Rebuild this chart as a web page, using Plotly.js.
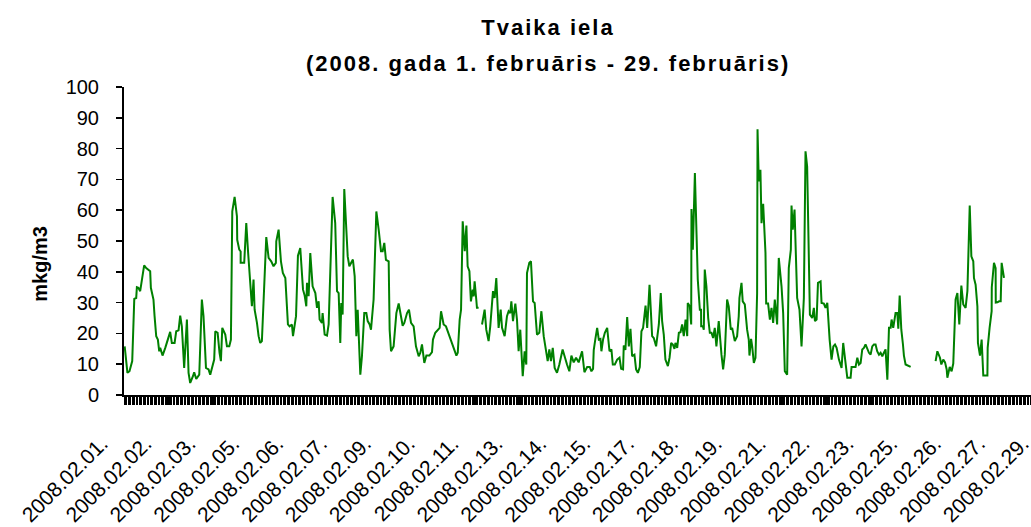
<!DOCTYPE html>
<html>
<head>
<meta charset="utf-8">
<script src="https://cdn.plot.ly/plotly-3.0.1.min.js"></script>
<style>
html,body{margin:0;padding:0;overflow:hidden;background:#fff;}
#chart{width:1096px;height:527px;}
text.gtitle{letter-spacing:2px;}
g.annotation.subtitle-ann text{letter-spacing:2px;}
</style>
</head>
<body>
<div id="chart"></div>
<script>
// hour index from 2008-02-01 00:00 (vertices); null = missing data
const hours = [
 0,2,3.5,5.5,7,8.4,8.9,10,11.3,12.5,14.2,15.7,18.6,19.1,21,21.8,23,24.2,25.2,25.9,
 27.6,29.6,31.3,33.2,34.4,36.4,37.6,39.3,40.5,41.7,43.4,45.4,46.6,47.8,49.8,50.7,52.2,54.4,56.3,57.5,
 59.3,61.2,62.4,63.9,65.3,66.1,67.8,69.2,70.2,71.2,73.4,74.6,76.3,77.5,78.5,80.2,
 81.9,82.1,83.6,84.6,84.6,87.2,88.7,89.9,91.6,92.8,94,94.8,96.5,97.7,98.9,100.1,103.3,105,106.9,108.6,
 110.3,110.6,112.3,114,115.4,117.2,119.1,120.3,122,122.8,125,126.4,128.1,130.1,131.3,132.5,133,134.2,135.4,137.1,
 139.1,140.3,141.5,142.2,143.9,144.4,145.9,147.6,148.8,151.7,153.6,154.9,156.1,157.3,158,159,160.2,161.4,162.7,163.9,
 165.3,166.5,167.8,169,170,170.7,171.9,173.1,174.8,176.3,177.3,178.7,179.7,181.6,183.6,185.3,187,188.2,189.4,190.6,
 192.6,193.3,194.3,196.2,198.2,199.9,201.1,202.8,204,206,207.4,208.9,210.8,212.5,214.5,215.7,216.9,218.6,220.1,222.3,
 224.2,224.9,226.6,228.3,229.8,230.8,232.7,234.4,236.4,238.8,240,242,243,244.4,245.4,246.6,248.1,249.3,250.2,251.5,
 252.6,253.9,254.6,255.3,256.5,257,258.2,259.5,260.7,262.6,263.8,265.5,266.7,268.7,269.9,271.1,272.8,274.3,275.3,277.2,
 278.9,280.1,281.3,282.1,283.3,285,286.2,287.4,288.6,290.4,291.8,293,293.5,295.2,296.4,297.2,297.9,299.1,300.8,302.5,
 304,305.7,306.4,307.4,308.6,309.8,311,312.3,313.7,315.4,317.1,319.5,321,322.7,324.4,325.9,327.6,329.3,331.2,332.4,
 333.7,335.4,337.4,339.3,340.5,341.7,342.2,343.4,344.7,345.9,347.1,347.8,349,350.3,352,353.7,355.1,356.1,357.6,359.3,
 361,362.2,363.6,364.1,365.3,366.6,367.8,369,370.2,371.9,373.1,374.4,375.8,377,378.2,380,381.2,382.9,383.6,384.8,
 386,387.7,389.7,391.1,392.1,393.3,394.5,396.3,397.5,398.7,399.9,401.1,401.8,403.1,404.3,405.5,406.7,407.9,409.2,410.4,
 410.8,412.3,413.3,413.5,414.5,416,417.2,418.1,419.6,
 420.5,420.6,421.8,422.5,423.2,424.4,425.7,426.9,428.1,429.3,430.5,431.7,433.4,435.4,436.6,437.8,439.5,440.7,442.2,443.2,
 445.1,446.8,448,448.5,450,450.9,452.4,454.1,455.3,455.8,457,457.8,459,460.2,461.4,461.7,462.6,463.8,464.6,465.8,
 467.5,468,469.4,470.7,471.9,473.1,474.3,476,477.2,479.2,480.4,481.6,483.3,484.5,486,486.5,487.4,488.7,489.4,490.6,
 492.3,493.8,495.5,496.7,497.9,499.1,499.9,
 501.6,502.8,503.6,504.8,505.8,507.7,508.4,510.1,511.3,512.6,514.3,515.7,517,518.2,519.4,521.1,523,524.2,525.9,527.2,
 529.6,530.3,533.2,534.5,535.7,536.9,538.1,539.3,540.5,541.8,543,544.2,545.4,546.6,547.8,549,550.3,551.5,552.7,553.9,
 555.1,556.4,557.6,558.8,559.5,560.7,562.4,563.7,564.4,565.4,566.6,567.8,568.5,569.7,571.7,573.4,
 582,
 591.6,592.9,594.8,595.8,597.2,598.5,599.7,600.2,601.9,603.3,604.5,605.8,606.2,607.5,608.9,610.4,611.8,613.5,614.8,616.5,
 617.7,619.1,619.6,620.8,622.1,622.5,624,625.2,626.4,629.4,629.6,631,632.5,632.6,634.2,635.4,635.5,636.7,637.9,639.1,
 639.8,641.5
];
const values = [
 15.8,7.2,7.7,11,31.2,31.5,35,34.8,33.7,37.5,42.1,41.2,40.2,34.8,31,25.6,19.1,18,14.2,15.3,
 12.8,15.3,17.5,20.5,16.9,16.9,20.7,21,25.8,22.3,8.8,24.5,7.2,3.9,6.1,7.4,5.2,6.6,31,25.6,
 8.8,8.3,6.6,8.8,11.5,20.7,20.2,13.7,11,21.8,19.6,15.8,15.8,18,59.6,64.3,
 58,50.4,47.2,46.6,42.9,42.9,55.8,47.2,37.5,28.8,37.5,27.7,23.4,19.1,16.9,17.5,51.3,44.5,43.4,41.8,
 42.9,49.9,53.7,43.4,39.6,38,22.9,22.3,22.9,19.1,25.6,45.2,47.7,34.2,32.3,28.8,36.4,32.1,46.1,35.3,
 33.1,28.3,30.4,24.5,23.4,26.6,19.6,19.3,22.9,64.3,55.8,33.7,33.1,16.9,29.9,26.1,66.9,58,45,41.8,
 42.9,44,38.5,19.1,27.7,19.1,6.6,12.6,26.6,26.6,24,22.9,21.2,31,59.6,53.7,46.7,46.7,49.4,43.9,
 43.4,21.2,14.2,15.8,26.6,29.7,26.6,22.5,23.4,26.6,27.7,23.4,22.3,15.8,12.6,13.7,16.4,10.4,12.8,12.8,
 13.9,18,20.2,21,21.8,27.2,22.9,22.3,19.6,16.9,14.8,12.8,13.7,24.5,27.7,56.4,46.7,55,41.8,40.2,
 30.4,34.2,32,36.9,31,28.3,28.3,null,22.9,27.7,21.2,17.5,22.3,33.7,31.5,38,21.8,27.7,21.8,19.1,
 25.6,27.2,26.6,30.4,24,29.7,24.5,14.2,21.2,6.1,14.2,9.9,39.6,42.9,43.4,36.4,30.4,29.9,19.6,20.2,
 27.2,19.1,16.9,13.7,11,14.8,11,15.3,8.8,7.2,9.9,14.8,12.1,9.9,7.7,12.8,10.6,12.1,10.6,12.6,
 14.2,7.4,9.1,9.1,7.7,8.5,14.6,18.2,21.8,18,18.2,14.2,18,20.2,21.8,14.2,14.8,9.9,9.9,11.5,
 12.1,8.5,8.3,16.1,14.6,25.3,15.8,21.5,12.6,13.1,8.3,7.2,9.1,20.7,21.8,29,21.8,35.8,27.2,19.1,
 18.5,15.8,22.9,33.1,24,19.6,11.5,9.4,12.1,16.9,16.4,15,16.9,15.3,20.2,20.4,22.9,19.1,24.5,19.1,
 29.9,28.8,22.9,60.4,47.2,72.1,52.1,37.5,27.7,
 27.7,22.3,22.3,21.2,40.7,35.3,25,20.2,20.2,18.5,21.8,15.8,24,13.1,8.3,13.1,31,28.8,21.2,21.8,
 17.5,19.1,25.6,31.5,36.4,30.4,29.4,21.2,18,12.8,18.2,15.8,10.4,12.1,33.1,86.3,69.4,73.1,55.8,62.1,
 46.1,29.7,29.7,24.5,28.3,23.4,31,22.9,44.5,35.3,26.6,7.7,6.6,41.2,47.2,61.5,53.7,60.2,48.3,31.5,
 27.7,15.8,31.5,79.1,74.2,48.3,26.1,
 25,28.3,24,24.5,36.4,36.9,29.9,29.7,28.3,29.9,18,11.5,15.8,16.4,15.3,11.5,8.8,16.9,10.4,5.6,
 5.6,9.1,9.1,12.1,9.9,10.4,14.8,15.3,16.4,14.6,13.7,13.1,15.8,16.4,16.4,14.2,13.1,13.7,12.6,13.7,
 14.8,5,21.8,21.8,24.5,21.8,26.6,26.6,21.5,32.3,21.2,16.4,12.8,9.9,9.6,9.1,
 null,
 11,14.2,12.1,9.9,11.5,10.6,8.3,5.6,9.1,7.7,10.2,24.5,31,33.1,22.9,35.5,29.4,28.3,33.7,61.5,
 45,43.4,38,35.8,28.8,16.9,12.8,18,6.3,6.3,15.3,21.8,27.2,35,42.9,41.2,30,30.1,30.4,30.4,
 42.9,38
];
const tickHours = [0,32,64,96,128,160,192,224,256,288,320,352,384,416,448,480,512,544,576,608,640,672];
const tickLabels = ['2008.02.01.','2008.02.02.','2008.02.03.','2008.02.05.','2008.02.06.','2008.02.07.',
 '2008.02.09.','2008.02.10.','2008.02.11.','2008.02.13.','2008.02.14.','2008.02.15.','2008.02.17.',
 '2008.02.18.','2008.02.19.','2008.02.21.','2008.02.22.','2008.02.23.','2008.02.25.','2008.02.26.',
 '2008.02.27.','2008.02.29.'];
const titleText = 'Tvaika iela';
const subtitleText = '(2008. gada 1. februāris - 29. februāris)';
const yTitleText = 'mkg/m3';

const FONT = 'Liberation Sans, Arial, Helvetica, sans-serif';

const trace = {
  x: hours, y: values, type: 'scatter', mode: 'lines',
  line: {color: '#008000', width: 2},
  connectgaps: false, hoverinfo: 'x+y'
};

const layout = {
  width: 1096, height: 527,
  margin: {l: 124, r: 18, t: 87, b: 132, pad: 0},
  paper_bgcolor: '#ffffff', plot_bgcolor: '#ffffff',
  font: {family: FONT, color: '#000', size: 20},
  showlegend: false,
  title: {text: titleText, font: {family: FONT, size: 22, weight: 'bold', color: '#000'},
          x: 0.5, xref: 'container', xanchor: 'center', y: 1 - 27/527, yref: 'container', yanchor: 'middle'},
  xaxis: {
    range: [-0.5, 695.5], tickmode: 'array', tickvals: tickHours, ticktext: tickLabels,
    tickangle: -45, ticks: 'outside', ticklen: 8, tickwidth: 1, tickcolor: '#000',
    showline: true, linecolor: '#000', linewidth: 2, showgrid: false, zeroline: false,
    tickfont: {family: FONT, size: 21, color: '#000'},
    ticklabelshift: -23, ticklabelstandoff: 18,
    minor: {tickmode: 'linear', tick0: -0.5, dtick: 1, ticks: 'outside', ticklen: 8,
            tickwidth: 1, tickcolor: '#000', showgrid: false},
    fixedrange: true
  },
  yaxis: {
    range: [0, 100], tickmode: 'linear', tick0: 0, dtick: 10, ticks: 'outside', ticklen: 6,
    tickwidth: 1.5, tickcolor: '#000', showline: true, linecolor: '#000', linewidth: 2,
    showgrid: false, zeroline: false, tickfont: {family: FONT, size: 20, color: '#000'},
    ticklabelstandoff: 13, fixedrange: true
  },
  annotations: [
    {text: subtitleText, xref: 'paper', yref: 'paper', x: (548-124)/954, y: (395.5-63)/308.5,
     xanchor: 'center', yanchor: 'middle', showarrow: false, name: 'subtitle',
     font: {family: FONT, size: 22, weight: 'bold', color: '#000'}},
    {text: yTitleText, xref: 'paper', yref: 'paper', x: (40-124)/954, y: (395.5-264)/308.5,
     xanchor: 'center', yanchor: 'middle', showarrow: false, textangle: -90,
     font: {family: FONT, size: 20, weight: 'bold', color: '#000'}}
  ]
};

Plotly.newPlot('chart', [trace], layout, {displayModeBar: false, staticPlot: true}).then(function(){
  const anns = document.querySelectorAll('g.annotation');
  if (anns.length) anns[0].classList.add('subtitle-ann');
});
</script>
</body>
</html>
